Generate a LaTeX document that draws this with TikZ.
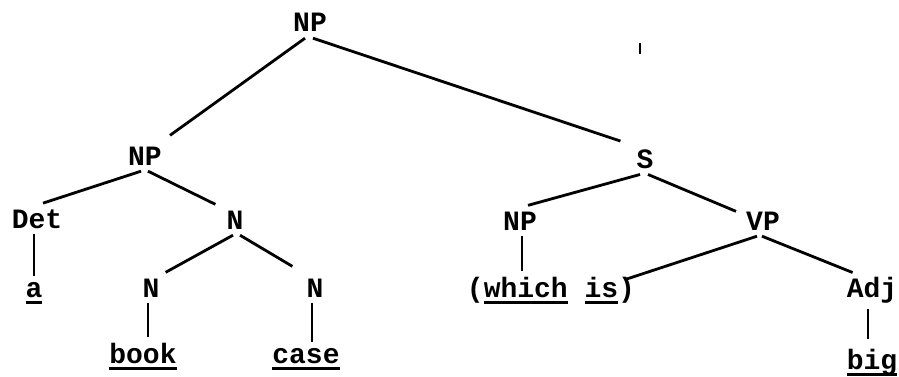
\documentclass[tikz,border=0pt]{standalone}
\usepackage{fontspec}
\newfontfamily\treefont{Liberation Mono}
\newcommand{\uword}[1]{\setbox0=\hbox{#1}\rlap{\rule[-7pt]{\wd0}{3pt}}\box0\relax}
\begin{document}
\begin{tikzpicture}[x=1pt, y=-1pt,
    lbl/.style={font=\treefont\bfseries\fontsize{28}{32}\selectfont, inner sep=6pt, anchor=base},
    branch/.style={line width=2.8pt}]
    \useasboundingbox (0,0) rectangle (899,377);
    \node[lbl] (nptop) at (310, 32) {NP};
    \node[lbl] (npleft) at (145, 165) {NP};
    \node[lbl] (s) at (645, 168) {S};
    \node[lbl] (det) at (37, 228) {Det};
    \node[lbl] (nmid) at (235, 229) {N};
    \node[lbl] (npright) at (520, 230) {NP};
    \node[lbl] (vp) at (763, 230) {VP};
    \node[lbl] (a) at (34, 297) {\uword{a}};
    \node[lbl] (nbook) at (151, 297) {N};
    \node[lbl] (ncase) at (315, 297) {N};
    \node[lbl] (rel) at (551, 297) {(\uword{which} \uword{is})};
    \node[lbl] (adj) at (872, 297) {Adj};
    \node[lbl] (book) at (143, 363) {\uword{book}};
    \node[lbl] (case) at (306, 363) {\uword{case}};
    \node[lbl] (big) at (872, 369) {\uword{big}};
    \draw[branch] ([xshift=-5pt]nptop.south) -- ([xshift=2pt,yshift=5pt]npleft.north east);
    \draw[branch] ([xshift=3pt]nptop.south) -- ([xshift=-10pt,yshift=2pt]s.north west);
    \draw[branch] ([xshift=-4pt]npleft.south) -- ([xshift=6pt]det.north);
    \draw[branch] ([xshift=3pt]npleft.south) -- ([xshift=-5pt]nmid.north west);
    \draw[branch] (a.north |- det.south) -- (a.north);
    \draw[branch] ([xshift=-2pt]nmid.south) -- (nbook.north east);
    \draw[branch] ([xshift=5pt]nmid.south) -- ([xshift=-8pt,yshift=6pt]ncase.north west);
    \draw[branch] ([xshift=-3pt]nbook.south) -- ([xshift=-3pt]nbook.south |- book.north);
    \draw[branch] ([xshift=-3pt]ncase.south) -- ([xshift=-3pt]ncase.south |- case.north);
    \draw[branch] ([xshift=-5pt]s.south) -- ([xshift=8pt]npright.north);
    \draw[branch] ([xshift=3pt]s.south) -- ([xshift=-4pt,yshift=-6pt]vp.north west);
    \draw[branch] ([xshift=2pt]npright.south) -- ([xshift=2pt]npright.south |- rel.north);
    \draw[branch] ([xshift=-6pt]vp.south) -- ([xshift=-16pt,yshift=-9pt]rel.north east);
    \draw[branch] ([xshift=-1pt]vp.south) -- ([xshift=12pt,yshift=-2pt]adj.north west);
    \draw[branch] ([xshift=-4pt]adj.south) -- ([xshift=-4pt,yshift=4pt]adj.south |- big.north);
    % speck
    \draw[line width=2.5pt] (640,43) -- (640,54);
\end{tikzpicture}
\end{document}
